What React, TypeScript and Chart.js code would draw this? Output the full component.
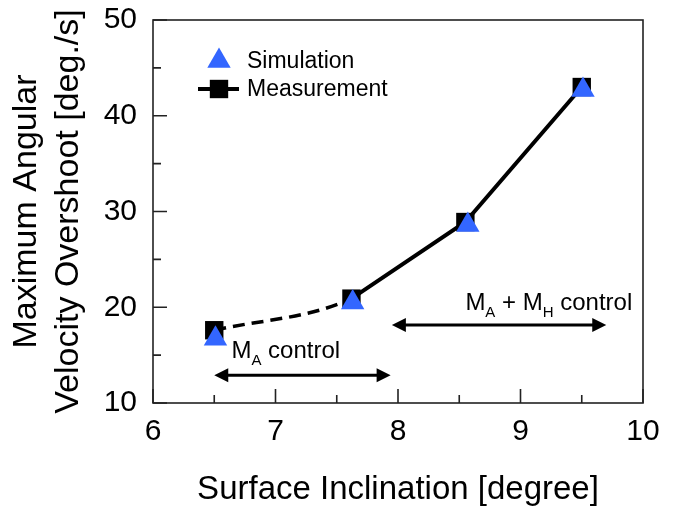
import React, { useEffect, useRef } from 'react';
import { Chart, registerables } from 'chart.js';

Chart.register(...registerables);

// ---- data ----
const measInclination = [6.5, 7.62, 8.55, 9.5];
const measurement = [17.6, 20.9, 28.9, 43.0];
const simInclination = [6.51, 7.63, 8.57, 9.51];
const simulation = [16.7, 20.5, 28.6, 42.7];

const xTicks = [6, 7, 8, 9, 10];
const yTicks = [10, 20, 30, 40, 50];

// control-region arrows (data coordinates)
const arrowFrom = [6.5, 7.95];
const arrowTo = [7.94, 9.7];
const arrowLevel = [12.9, 18.15];

// control-region labels
const labelX = [6.64, 8.55];
const labelY = [14.67, 19.7];
const labelParts = [
  [{ t: 'M' }, { t: 'A', sub: true }, { t: ' control' }],
  [{ t: 'M' }, { t: 'A', sub: true }, { t: ' + M' }, { t: 'H', sub: true }, { t: ' control' }],
];

const legendNames = ['Simulation', 'Measurement'];

const FONT = '"Liberation Sans", Arial, Helvetica, sans-serif';
const BLUE = '#3366ff';

const framePlugin = {
  id: 'frame',
  afterDatasetsDraw(chart: any) {
    const { ctx, chartArea: a, scales } = chart;
    const xs = scales.x;
    const ys = scales.y;
    ctx.save();
    ctx.strokeStyle = '#222';
    ctx.lineWidth = 1.6;
    ctx.strokeRect(a.left, a.top, a.right - a.left, a.bottom - a.top);
    ctx.beginPath();
    for (let i = 0; i < xTicks.length; i++) {
      const px = xs.getPixelForValue(xTicks[i]);
      ctx.moveTo(px, a.bottom);
      ctx.lineTo(px, a.bottom - 14);
      if (i < xTicks.length - 1) {
        const pm = xs.getPixelForValue((xTicks[i] + xTicks[i + 1]) / 2);
        ctx.moveTo(pm, a.bottom);
        ctx.lineTo(pm, a.bottom - 8);
      }
    }
    for (let i = 0; i < yTicks.length; i++) {
      const py = ys.getPixelForValue(yTicks[i]);
      ctx.moveTo(a.left, py);
      ctx.lineTo(a.left + 14, py);
      if (i < yTicks.length - 1) {
        const pm = ys.getPixelForValue((yTicks[i] + yTicks[i + 1]) / 2);
        ctx.moveTo(a.left, pm);
        ctx.lineTo(a.left + 8, pm);
      }
    }
    ctx.stroke();

    // arrows
    ctx.strokeStyle = '#000';
    ctx.fillStyle = '#000';
    ctx.lineWidth = 3;
    const head = 14;
    const hw = 7;
    for (let i = 0; i < arrowFrom.length; i++) {
      const x1 = xs.getPixelForValue(arrowFrom[i]);
      const x2 = xs.getPixelForValue(arrowTo[i]);
      const y = ys.getPixelForValue(arrowLevel[i]);
      ctx.beginPath();
      ctx.moveTo(x1 + head - 2, y);
      ctx.lineTo(x2 - head + 2, y);
      ctx.stroke();
      ctx.beginPath();
      ctx.moveTo(x1, y);
      ctx.lineTo(x1 + head, y - hw);
      ctx.lineTo(x1 + head, y + hw);
      ctx.closePath();
      ctx.fill();
      ctx.beginPath();
      ctx.moveTo(x2, y);
      ctx.lineTo(x2 - head, y - hw);
      ctx.lineTo(x2 - head, y + hw);
      ctx.closePath();
      ctx.fill();
    }

    // labels with subscripts
    ctx.textBaseline = 'alphabetic';
    ctx.textAlign = 'left';
    for (let i = 0; i < labelParts.length; i++) {
      let x = xs.getPixelForValue(labelX[i]);
      const y = ys.getPixelForValue(labelY[i]);
      for (const part of labelParts[i]) {
        if ((part as any).sub) {
          ctx.font = `15px ${FONT}`;
          ctx.fillText(part.t, x, y + 6.5);
        } else {
          ctx.font = `24px ${FONT}`;
          ctx.fillText(part.t, x, y);
        }
        x += ctx.measureText(part.t).width;
      }
    }

    // legend
    const lx = a.left + 66;
    const ly1 = a.top + 41;
    const ly2 = a.top + 69;
    const r = 13.5;
    ctx.fillStyle = BLUE;
    ctx.beginPath();
    ctx.moveTo(lx, ly1 - r);
    ctx.lineTo(lx + r * Math.sin((2 * Math.PI) / 3), ly1 + r / 2);
    ctx.lineTo(lx - r * Math.sin((2 * Math.PI) / 3), ly1 + r / 2);
    ctx.closePath();
    ctx.fill();
    ctx.strokeStyle = '#000';
    ctx.lineWidth = 4;
    ctx.beginPath();
    ctx.moveTo(lx - 21, ly2);
    ctx.lineTo(lx + 20, ly2);
    ctx.stroke();
    ctx.fillStyle = '#000';
    const s = 13 * Math.SQRT1_2;
    ctx.fillRect(lx - s, ly2 - s, 2 * s, 2 * s);
    ctx.font = `23px ${FONT}`;
    ctx.textBaseline = 'middle';
    ctx.fillText(legendNames[0], lx + 28, ly1 + 1);
    ctx.fillText(legendNames[1], lx + 28, ly2 + 1);
    ctx.restore();
  },
};

export default function App() {
  const ref = useRef<HTMLCanvasElement>(null);
  useEffect(() => {
    if (!ref.current) return;
    const meas = measInclination.map((x, i) => ({ x, y: measurement[i] }));
    const sim = simInclination.map((x, i) => ({ x, y: simulation[i] }));
    const chart = new Chart(ref.current, {
      type: 'line',
      data: {
        datasets: [
          {
            label: legendNames[0],
            data: sim,
            showLine: false,
            pointStyle: 'triangle',
            pointRadius: 13.5,
            pointBackgroundColor: BLUE,
            pointBorderWidth: 0,
            borderColor: BLUE,
          },
          {
            label: legendNames[1],
            data: meas,
            showLine: true,
            borderColor: '#000',
            borderWidth: 4,
            tension: 0,
            pointStyle: 'rect',
            pointRadius: 13,
            pointBackgroundColor: '#000',
            pointBorderWidth: 0,
            segment: {
              borderColor: (c: any) => (c.p0DataIndex === 0 ? 'rgba(0,0,0,0)' : '#000'),
            },
          },
          {
            label: 'fit',
            data: meas.slice(0, 3),
            showLine: true,
            cubicInterpolationMode: 'monotone',
            borderColor: '#000',
            borderWidth: 3.5,
            borderDash: [12, 7],
            pointRadius: 0,
            segment: {
              borderColor: (c: any) => (c.p0DataIndex === 0 ? '#000' : 'rgba(0,0,0,0)'),
            },
          },
        ],
      },
      options: {
        responsive: false,
        animation: false,
        events: [],
        layout: { padding: { top: 20, right: 30, left: 0, bottom: 0 } },
        plugins: { legend: { display: false }, tooltip: { enabled: false } },
        scales: {
          x: {
            type: 'linear',
            min: 6,
            max: 10,
            afterFit: (s: any) => {
              s.height = 110;
              s.paddingLeft = 0;
              s.paddingRight = 0;
            },
            afterBuildTicks: (s: any) => {
              s.ticks = xTicks.map((v) => ({ value: v }));
            },
            grid: { display: false, drawTicks: false },
            border: { display: false },
            ticks: { color: '#000', font: { size: 30, family: FONT }, padding: 11, maxRotation: 0 },
            title: {
              display: true,
              text: 'Surface Inclination [degree]',
              color: '#000',
              font: { size: 33, family: FONT },
              padding: { top: 0, bottom: 3 },
            },
          },
          y: {
            type: 'linear',
            min: 10,
            max: 50,
            afterFit: (s: any) => {
              s.width = 153;
              s.paddingTop = 0;
              s.paddingBottom = 0;
            },
            afterBuildTicks: (s: any) => {
              s.ticks = yTicks.map((v) => ({ value: v }));
            },
            grid: { display: false, drawTicks: false },
            border: { display: false },
            ticks: { color: '#000', font: { size: 30, family: FONT }, padding: 16 },
            title: {
              display: true,
              text: ['Maximum Angular', 'Velocity Overshoot [deg./s]'],
              color: '#000',
              font: { size: 34, family: FONT, lineHeight: 1.22 },
              padding: { top: 6, bottom: 0 },
            },
          },
        },
      },
      plugins: [framePlugin],
    });
    return () => chart.destroy();
  }, []);
  return (
    <div style={{ position: 'absolute', left: 0, top: 0, width: 673, height: 513, background: '#fff' }}>
      <canvas ref={ref} width={673} height={513} style={{ display: 'block' }} />
    </div>
  );
}
